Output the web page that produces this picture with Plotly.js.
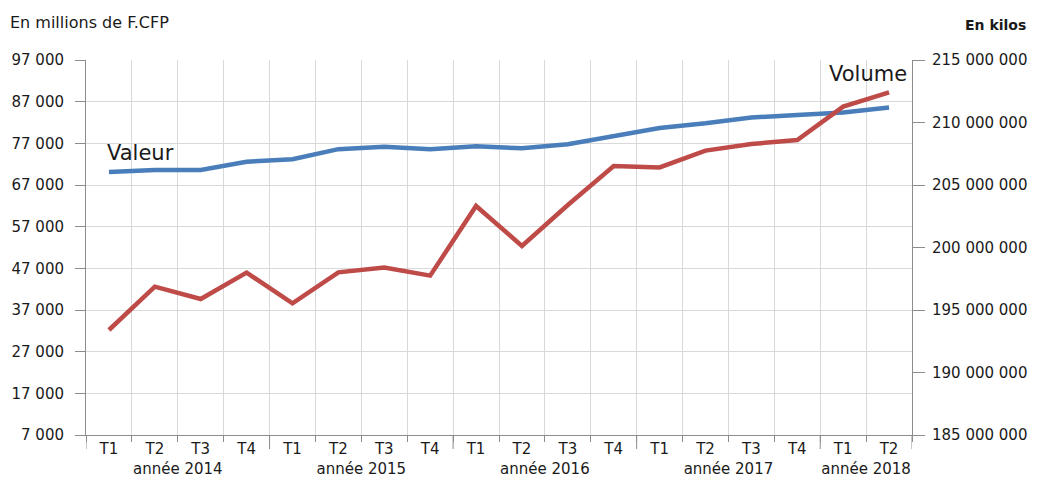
<!DOCTYPE html>
<html>
<head>
<meta charset="utf-8">
<script src="https://cdn.plot.ly/plotly-3.0.1.min.js"></script>
<style>
html,body{margin:0;padding:0;background:#fff;}
#chart{width:1049px;height:482px;}
</style>
</head>
<body>
<div id="chart"></div>
<script>
const years = ["année 2014","année 2014","année 2014","année 2014",
  "année 2015","année 2015","année 2015","année 2015",
  "année 2016","année 2016","année 2016","année 2016",
  "année 2017","année 2017","année 2017","année 2017",
  "année 2018","année 2018"];
const quarters = ["T1","T2","T3","T4","T1","T2","T3","T4","T1","T2","T3","T4","T1","T2","T3","T4","T1","T2"];
const valeur = [70100,70600,70600,72600,73200,75600,76200,75600,76300,75800,76800,78700,80700,81800,83200,83800,84400,85600];
const volume = [193400000,196870000,195880000,197990000,195530000,198010000,198390000,197750000,203320000,200120000,203400000,206520000,206410000,207750000,208280000,208600000,211270000,212410000];
const leftTicks = [7000,17000,27000,37000,47000,57000,67000,77000,87000,97000];
const rightTicks = [185000000,190000000,195000000,200000000,205000000,210000000,215000000];

const font = "DejaVu Sans, sans-serif";
const x = [years, quarters];

// year divider positions (boundaries between year groups)
const dividers = [];
for (let i = 0; i <= years.length; i++) {
  if (i === 0 || i === years.length || years[i] !== years[i - 1]) dividers.push(i - 0.5);
}

const traces = [
  {x: x, y: valeur, type: 'scatter', mode: 'lines', name: 'Valeur',
   line: {color: '#4a7ebb', width: 4.5}, yaxis: 'y', hoverinfo: 'skip'},
  {x: x, y: volume, type: 'scatter', mode: 'lines', name: 'Volume',
   line: {color: '#be4b48', width: 4.5}, yaxis: 'y2', hoverinfo: 'skip'}
];

const shapes = dividers.map(d => ({
  type: 'line', xref: 'x', yref: 'paper', x0: d, x1: d, y0: 0, y1: -14/375,
  line: {color: '#8c8c8c', width: 1}
}));

const layout = {
  width: 1049, height: 482,
  margin: {l: 86, r: 137, t: 60, b: 47},
  paper_bgcolor: '#fff', plot_bgcolor: '#fff',
  showlegend: false,
  separators: ', ',
  font: {family: font, size: 15, color: '#1a1a1a'},
  xaxis: {
    type: 'multicategory',
    range: [-0.5, years.length - 0.5],
    showgrid: true, gridcolor: '#d9d9d9', gridwidth: 1,
    showline: true, linecolor: '#8c8c8c', linewidth: 1,
    ticks: 'outside', ticklen: 6, tickcolor: '#8c8c8c',
    showdividers: false,
    tickfont: {family: font, size: 15, color: '#1a1a1a'},
    zeroline: false, fixedrange: true
  },
  yaxis: {
    range: [7000, 97000], tickvals: leftTicks, tickformat: ',d',
    showgrid: true, gridcolor: '#d9d9d9', gridwidth: 1,
    showline: true, linecolor: '#8c8c8c', linewidth: 1,
    ticks: 'outside', ticklen: 10, tickcolor: '#8c8c8c',
    ticklabelstandoff: 8,
    zeroline: false,
    tickfont: {family: font, size: 15, color: '#1a1a1a'}
  },
  yaxis2: {
    overlaying: 'y', side: 'right',
    range: [185000000, 215000000], tickvals: rightTicks, tickformat: ',d',
    showgrid: false,
    showline: true, linecolor: '#8c8c8c', linewidth: 1,
    ticks: 'outside', ticklen: 12, tickcolor: '#8c8c8c',
    ticklabelstandoff: 4,
    zeroline: false,
    tickfont: {family: font, size: 15, color: '#1a1a1a'}
  },
  shapes: shapes,
  annotations: [
    {text: 'En millions de F.CFP', xref: 'paper', yref: 'paper', x: 0, y: 1 + 38/375,
     xanchor: 'left', yanchor: 'middle', showarrow: false, xshift: -78,
     font: {family: font, size: 16, color: '#1a1a1a'}},
    {text: '<b>En kilos</b>', xref: 'paper', yref: 'paper', x: 1, y: 1 + 35/375,
     xanchor: 'right', yanchor: 'middle', showarrow: false, xshift: 116,
     font: {family: font, size: 14, color: '#1a1a1a'}},
    {text: 'Valeur', xref: 'x', yref: 'y', x: [years[0], quarters[0]], y: valeur[0],
     xanchor: 'left', yanchor: 'bottom', showarrow: false, xshift: -4, yshift: 5,
     font: {family: font, size: 21, color: '#1a1a1a'}},
    {text: 'Volume', xref: 'x', yref: 'y2', x: [years[17], quarters[17]], y: volume[17],
     xanchor: 'right', yanchor: 'bottom', showarrow: false, xshift: 20, yshift: 4,
     font: {family: font, size: 21, color: '#1a1a1a'}}
  ]
};

Plotly.newPlot('chart', traces, layout, {displayModeBar: false, staticPlot: true});
</script>
</body>
</html>
